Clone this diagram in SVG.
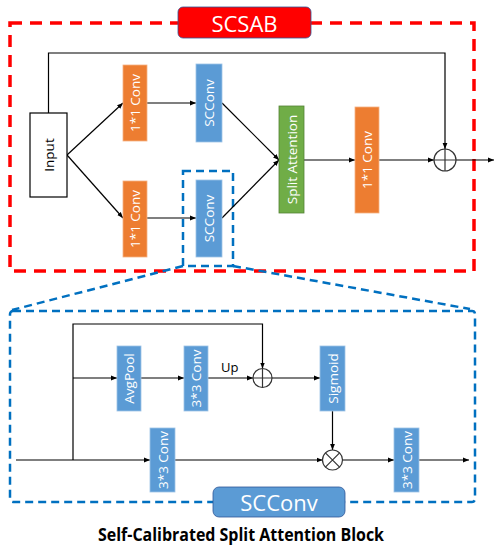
<svg xmlns="http://www.w3.org/2000/svg" width="497" height="550" viewBox="0 0 497 550">
<defs>
<marker id="ah" viewBox="0 0 10 10" refX="10" refY="5" markerWidth="6" markerHeight="6" markerUnits="userSpaceOnUse" orient="auto"><path d="M0,1 L10,5 L0,9 z" fill="#000"/></marker>
<style>
.red{fill:none;stroke:#f00;stroke-width:3.5;stroke-dasharray:12 8}
.blued{fill:none;stroke:#0070c0;stroke-width:2.5;stroke-dasharray:8 5}
.or{fill:#ed7d31;stroke:#f4b183;stroke-width:0.8}
.bl{fill:#5b9bd5;stroke:#9dc3e6;stroke-width:0.8}
.gr{fill:#70ad47;stroke:#548235;stroke-width:0.8}
.lbl{font-family:"Open Sans","Liberation Sans",sans-serif;font-size:13.5px;fill:#fff;text-anchor:middle;dominant-baseline:central}
.ln{fill:none;stroke:#000;stroke-width:1.2}
.ar{fill:none;stroke:#000;stroke-width:1.2;marker-end:url(#ah)}
.op{fill:#fff;stroke:#333;stroke-width:1.2}
.tag{font-family:"Open Sans","Liberation Sans",sans-serif;font-size:22px;fill:#fff;text-anchor:middle;dominant-baseline:central}
</style>
</defs>

<g id="frames">
<rect class="red" x="10" y="23" width="464" height="248"/>
<rect class="blued" x="183" y="171" width="50" height="95"/>
<rect class="blued" x="10" y="311" width="465" height="191" rx="3"/>
<line class="blued" x1="183" y1="266" x2="12" y2="310"/>
<line class="blued" x1="233" y1="266" x2="470" y2="309"/>
</g>

<g id="connectors">
<polyline class="ar" points="48.5,113 48.5,53 445,53 445,149"/>
<line class="ar" x1="67" y1="155" x2="123" y2="103"/>
<line class="ar" x1="67" y1="155" x2="123" y2="218"/>
<line class="ar" x1="147" y1="103" x2="196" y2="103"/>
<line class="ar" x1="147" y1="218" x2="196" y2="218"/>
<line class="ar" x1="222" y1="103" x2="279" y2="160"/>
<line class="ar" x1="222" y1="218" x2="279" y2="160"/>
<line class="ar" x1="304" y1="160" x2="355" y2="160"/>
<line class="ar" x1="379" y1="160" x2="434" y2="160"/>
<line class="ar" x1="456" y1="160" x2="494" y2="160"/>

<line class="ln" x1="16" y1="460" x2="73" y2="460"/>
<polyline class="ar" points="73,460 73,324 262.5,324 262.5,368.5"/>
<line class="ar" x1="73" y1="378" x2="117" y2="378"/>
<line class="ar" x1="141" y1="378" x2="184" y2="378"/>
<line class="ar" x1="208" y1="378" x2="253" y2="378"/>
<line class="ar" x1="272" y1="378" x2="320" y2="378"/>
<line class="ar" x1="73" y1="460" x2="150" y2="460"/>
<line class="ar" x1="332.5" y1="411" x2="332.5" y2="450"/>
<line class="ar" x1="175" y1="460" x2="322.5" y2="460"/>
<line class="ar" x1="342.5" y1="460" x2="394" y2="460"/>
<line class="ar" x1="419" y1="460" x2="469" y2="460"/>
<text x="221" y="372" font-family="'Open Sans','Liberation Sans',sans-serif" font-size="13" fill="#000">Up</text>
</g>

<g id="scsab-label">
<rect x="178" y="7" width="133" height="31" rx="5" fill="#f00" stroke="#2f5597" stroke-width="0.8"/>
<text class="tag" x="244.5" y="22.5">SCSAB</text>
</g>

<g id="input">
<rect x="30" y="113" width="37" height="84" fill="#fff" stroke="#000" stroke-width="1.2"/>
<text class="lbl" transform="translate(48.5,155) rotate(-90)" style="fill:#000">Input</text>
</g>

<g id="conv1-top">
<rect class="or" x="123" y="65" width="24" height="76"/>
<text class="lbl" transform="translate(135,103) rotate(-90)">1*1 Conv</text>
</g>
<g id="scconv-top">
<rect class="bl" x="196" y="64" width="26" height="78"/>
<text class="lbl" transform="translate(209,103) rotate(-90)">SCConv</text>
</g>
<g id="conv1-bottom">
<rect class="or" x="123" y="181" width="24" height="76"/>
<text class="lbl" transform="translate(135,219) rotate(-90)">1*1 Conv</text>
</g>
<g id="scconv-bottom">
<rect class="bl" x="196" y="180" width="26" height="77"/>
<text class="lbl" transform="translate(209,218.5) rotate(-90)">SCConv</text>
</g>
<g id="split-attention">
<rect class="gr" x="279" y="106" width="25" height="107"/>
<text class="lbl" transform="translate(291.5,159.5) rotate(-90)">Split Attention</text>
</g>
<g id="conv1-right">
<rect class="or" x="355" y="107" width="24" height="106"/>
<text class="lbl" transform="translate(367,160) rotate(-90)">1*1 Conv</text>
</g>
<g id="add-top">
<circle class="op" cx="445" cy="160" r="11"/>
<path d="M434,160 H456 M445,149 V171" stroke="#333" stroke-width="1.2"/>
</g>

<g id="avgpool">
<rect class="bl" x="117" y="346" width="24" height="65"/>
<text class="lbl" transform="translate(129,378.5) rotate(-90)">AvgPool</text>
</g>
<g id="conv3-a">
<rect class="bl" x="184" y="346" width="24" height="65"/>
<text class="lbl" transform="translate(196,378.5) rotate(-90)">3*3 Conv</text>
</g>
<g id="add-bottom">
<circle class="op" cx="262.5" cy="378" r="9.5"/>
<path d="M253,378 H272 M262.5,368.5 V387.5" stroke="#333" stroke-width="1.2"/>
</g>
<g id="sigmoid">
<rect class="bl" x="320" y="346" width="25" height="65"/>
<text class="lbl" transform="translate(332.5,378.5) rotate(-90)">Sigmoid</text>
</g>
<g id="conv3-b">
<rect class="bl" x="150" y="428" width="25" height="64"/>
<text class="lbl" transform="translate(162.5,460) rotate(-90)">3*3 Conv</text>
</g>
<g id="mul">
<circle class="op" cx="332.5" cy="460" r="10"/>
<path d="M325.4,452.9 L339.6,467.1 M339.6,452.9 L325.4,467.1" stroke="#333" stroke-width="1.2"/>
</g>
<g id="conv3-c">
<rect class="bl" x="394" y="428" width="25" height="64"/>
<text class="lbl" transform="translate(406.5,460) rotate(-90)">3*3 Conv</text>
</g>

<g id="scconv-label">
<rect x="213" y="487" width="132" height="30" rx="6" fill="#5b9bd5" stroke="#2f5597" stroke-width="0.8"/>
<text class="tag" x="279" y="502">SCConv</text>
</g>

<g id="title">
<text x="241" y="541" text-anchor="middle" font-family="'Open Sans','Liberation Sans',sans-serif" font-weight="bold" font-size="17" fill="#000" textLength="286" lengthAdjust="spacingAndGlyphs">Self-Calibrated Split Attention Block</text>
</g>
</svg>
